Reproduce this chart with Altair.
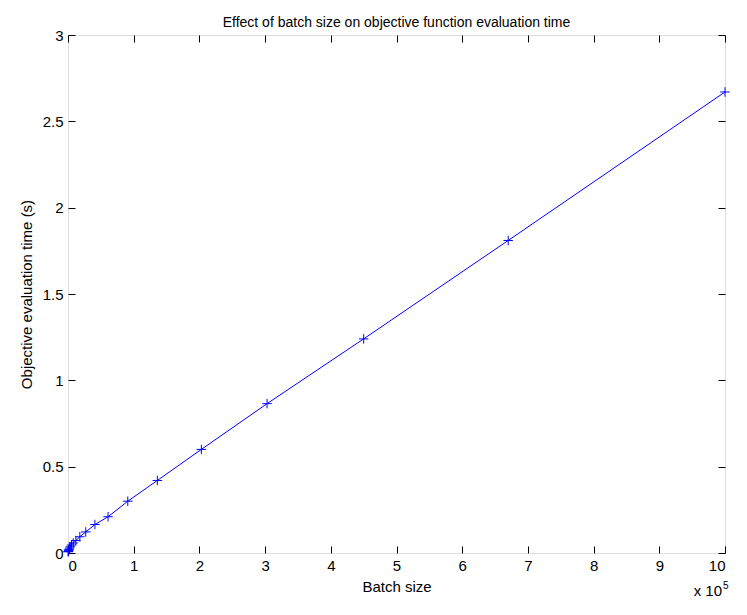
import altair as alt
import pandas as pd

# Data
batch_size = [1000000, 670000, 450000, 303000, 203000, 136000, 91000, 61000,
              41000, 27000, 18000, 12000, 8000, 5300, 3500, 2400, 1600, 1100,
              700, 500, 300]
eval_time = [2.67, 1.81, 1.24, 0.865, 0.60, 0.42, 0.30, 0.21,
             0.165, 0.122, 0.094, 0.072, 0.058, 0.046, 0.036, 0.028, 0.021,
             0.016, 0.012, 0.009, 0.007]
x_ticks = [0, 100000, 200000, 300000, 400000, 500000, 600000, 700000,
           800000, 900000, 1000000]
y_ticks = [0, 0.5, 1, 1.5, 2, 2.5, 3]

TITLE = "Effect of batch size on objective function evaluation time"
X_TITLE = "Batch size"
Y_TITLE = "Objective evaluation time (s)"
EXP_BASE = "x 10"
EXP_POWER = "5"

df = pd.DataFrame({"batch": batch_size, "time": eval_time})

W, H = 657, 518
FONT = "Liberation Sans"
BLUE = "#0000ff"

xs = alt.Scale(domain=[0, 1000000], nice=False, zero=False)
ys = alt.Scale(domain=[0, 3], nice=False, zero=False)

base = alt.Chart(df)

# main line with labelled axes (no ticks)
line = base.mark_line(color=BLUE, strokeWidth=1).encode(
    x=alt.X("batch:Q", scale=xs,
            axis=alt.Axis(title=X_TITLE, values=x_ticks,
                          labelExpr="format(datum.value/100000, '~g')",
                          ticks=False, domain=False, grid=False,
                          labelPadding=5, titlePadding=6,
                          labelFontSize=15, titleFontSize=15,
                          labelFont=FONT, titleFont=FONT,
                          labelColor="black", titleColor="black",
                          titleFontWeight="normal")),
    y=alt.Y("time:Q", scale=ys,
            axis=alt.Axis(title=Y_TITLE, values=y_ticks, format="~g",
                          ticks=False, domain=False, grid=False,
                          labelPadding=5, titlePadding=8,
                          labelFontSize=15, titleFontSize=15,
                          labelFont=FONT, titleFont=FONT,
                          labelColor="black", titleColor="black",
                          titleFontWeight="normal")),
)

points = base.mark_point(shape="M-1,0L1,0M0,-1L0,1", size=90, filled=False,
                         color=BLUE, strokeWidth=1, opacity=1).encode(
    x=alt.X("batch:Q", scale=xs, axis=None),
    y=alt.Y("time:Q", scale=ys, axis=None),
)

tick_style = dict(labels=False, domain=False, grid=False, ticks=True,
                  tickSize=7, tickColor="black", tickWidth=1, title=None)

# inward ticks at bottom and left
ticks_bl = base.mark_point(opacity=0).encode(
    x=alt.X("batch:Q", scale=xs,
            axis=alt.Axis(orient="top", offset=-H, values=x_ticks, **tick_style)),
    y=alt.Y("time:Q", scale=ys,
            axis=alt.Axis(orient="right", offset=-W, values=y_ticks, **tick_style)),
)

# inward ticks at top and right
ticks_tr = base.mark_point(opacity=0).encode(
    x=alt.X("batch:Q", scale=xs,
            axis=alt.Axis(orient="bottom", offset=-H, values=x_ticks, **tick_style)),
    y=alt.Y("time:Q", scale=ys,
            axis=alt.Axis(orient="left", offset=-W, values=y_ticks, **tick_style)),
)

exp_base = alt.Chart(pd.DataFrame({"t": [EXP_BASE]})).mark_text(
    font=FONT, fontSize=15, align="right", baseline="alphabetic", color="black"
).encode(text="t:N", x=alt.value(654), y=alt.value(561))

exp_power = alt.Chart(pd.DataFrame({"t": [EXP_POWER]})).mark_text(
    font=FONT, fontSize=10, align="left", baseline="alphabetic", color="black"
).encode(text="t:N", x=alt.value(655), y=alt.value(554))

chart = alt.layer(line, points, ticks_bl, ticks_tr, exp_base, exp_power).resolve_scale(
    x="independent", y="independent"
).properties(
    width=W, height=H,
    title=alt.TitleParams(TITLE, font=FONT, fontSize=14, fontWeight="normal",
                          color="black", offset=7, dy=9, anchor="middle"),
    autosize=alt.AutoSizeParams(type="none"),
    padding={"left": 60, "top": 27, "right": 14, "bottom": 54},
).configure_view(stroke="black", strokeWidth=1).configure(background="white")

chart.save("out.html", embed_options={"renderer": "svg", "actions": False})
